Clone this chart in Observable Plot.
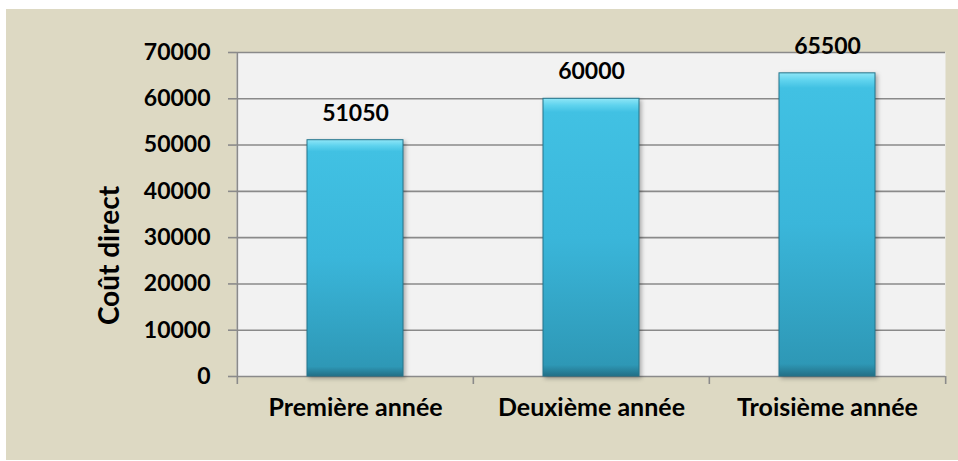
<!DOCTYPE html>
<html>
<head>
<meta charset="utf-8">
<script src="https://cdn.jsdelivr.net/npm/d3@7"></script>
<script src="https://cdn.jsdelivr.net/npm/@observablehq/plot@0.6"></script>
<style>
  html, body { margin: 0; padding: 0; background: #ffffff; }
  #wrap { position: relative; width: 958px; height: 461px; }
  #bg { position: absolute; left: 6px; top: 9px; right: 0; bottom: 1px; background: #DDD9C3; }
  #chart { position: absolute; left: 0; top: 0; }
  #chart svg { overflow: visible; }
</style>
</head>
<body>
<div id="wrap"><div id="bg"></div><div id="chart"></div></div>
<script>
const categories = ["Première année", "Deuxième année", "Troisième année"];
const values = [51050, 60000, 65500];
const yTicks = [0, 10000, 20000, 30000, 40000, 50000, 60000, 70000];
const yLabel = "Coût direct";

const data = categories.map((c, i) => ({category: c, value: values[i]}));

const W = 958, H = 461, ML = 236, MR = 13, MT = 52, MB = 85;
const bw = (W - ML - MR) / categories.length;
const font = "Lato, 'Open Sans', sans-serif";
const grid = "#8a8a8a";

const plot = Plot.plot({
  width: W,
  height: H,
  marginLeft: ML,
  marginRight: MR,
  marginTop: MT,
  marginBottom: MB,
  style: {background: "transparent", fontFamily: font, color: "#000"},
  x: {domain: categories, padding: 0, axis: null},
  y: {domain: [0, 70000], axis: null},
  marks: [
    Plot.frame({fill: "#F2F2F2", stroke: null}),
    Plot.gridY(yTicks.filter(d => d > 0), {stroke: grid, strokeOpacity: 1, strokeWidth: 1.6}),
    Plot.axisY({ticks: yTicks, tickSize: 8, tickPadding: 18, stroke: grid, strokeWidth: 1.6, fontSize: 23, fontWeight: "bold", fill: "#000", label: null, tickFormat: d => String(d)}),
    Plot.ruleY([0], {stroke: grid, strokeWidth: 1.6}),
    // category boundary ticks
    Plot.ruleX(categories, {x: d => d, y1: 0, y2: 0, insetBottom: -8, dx: -bw / 2, stroke: grid, strokeWidth: 1.6}),
    Plot.ruleX([categories[categories.length - 1]], {x: d => d, y1: 0, y2: 0, insetBottom: -8, dx: bw / 2, stroke: grid, strokeWidth: 1.6}),
    Plot.ruleX([categories[0]], {x: d => d, y1: 0, y2: 70000, dx: -bw / 2, stroke: grid, strokeWidth: 1.6}),
    Plot.barY(data, {x: "category", y: "value", insetLeft: 70, insetRight: 70, fill: "url(#barGrad)", stroke: "#24748b", strokeWidth: 1, className: "bars"}),
    Plot.text(data, {x: "category", y: "value", text: d => String(d.value), dy: -27, lineAnchor: "middle", fontSize: 23, fontWeight: "bold", fill: "#000"}),
    Plot.axisX({tickSize: 0, tickPadding: 22, fontSize: 25, fontWeight: "bold", fill: "#000", label: null}),
    Plot.text([yLabel], {frameAnchor: "left", dx: -126, dy: 41, rotate: -90, textAnchor: "middle", fontSize: 28, fontWeight: "bold", fill: "#000", lineAnchor: "middle"})
  ]
});

const ns = "http://www.w3.org/2000/svg";
const defs = document.createElementNS(ns, "defs");
defs.innerHTML = `
  <linearGradient id="barGrad" x1="0" y1="0" x2="0" y2="1">
    <stop offset="0" stop-color="#8fe6f7"/>
    <stop offset="0.025" stop-color="#5fd3ee"/>
    <stop offset="0.05" stop-color="#41c1e3"/>
    <stop offset="0.5" stop-color="#3ab6da"/>
    <stop offset="0.96" stop-color="#2e98b6"/>
    <stop offset="1" stop-color="#236f86"/>
  </linearGradient>`;
plot.insertBefore(defs, plot.firstChild);
const bars = plot.querySelector(".bars");
if (bars) bars.style.filter = "drop-shadow(2px 2px 2px rgba(0,0,0,0.3))";
document.getElementById("chart").appendChild(plot);
</script>
</body>
</html>
